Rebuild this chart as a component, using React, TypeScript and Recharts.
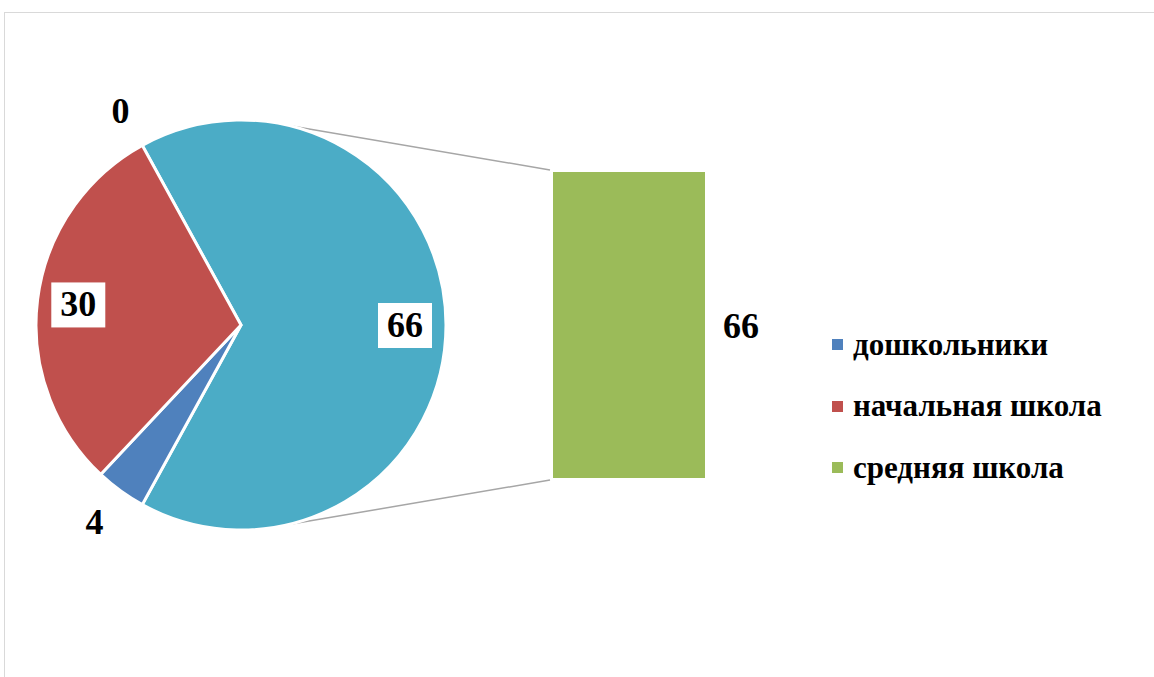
import React from "react";
import { PieChart, Pie, Cell, BarChart, Bar, XAxis, YAxis, LabelList, Legend } from "recharts";

// pie-of-bar: the teal slice is the "other" part that is split out into the bar
const pieNames = ["средняя школа (прочее)", "дошкольники", "начальная школа", ""];
const pieValues = [66, 4, 30, 0];
const pieColors = ["#4BACC6", "#4F81BD", "#C0504D", "#8064A2"];
const pieBoxed = [true, false, true, false];

const barNames = ["средняя школа"];
const barValues = [66];

const legendNames = ["дошкольники", "начальная школа", "средняя школа"];
const legendColors = ["#4F81BD", "#C0504D", "#9BBB59"];

const pieData = pieNames.map((name, i) => ({ name, value: pieValues[i] }));
const barData = barNames.map((name, i) => ({ name, value: barValues[i] }));

const FONT = "'Liberation Serif', 'Times New Roman', serif";
const RAD = Math.PI / 180;

const CX = 241;
const CY = 325;
const R = 205;
const OTHER = pieValues[0] / pieValues.reduce((a, b) => a + b, 0);
const START = OTHER * 180;

// bar placement
const BAR_X = 553;
const BAR_Y = 172;
const BAR_W = 152;
const BAR_H = 306;

const renderLabel = (props: any) => {
  const { cx, cy, midAngle, outerRadius, index, value } = props;
  const boxed = pieBoxed[index];
  const k = boxed ? 0.8 : 1.19;
  const x = cx + outerRadius * k * Math.cos(-midAngle * RAD) - (boxed ? 0 : 3);
  const y = cy + outerRadius * k * Math.sin(-midAngle * RAD);
  return (
    <g>
      {boxed && <rect x={x - 27} y={y - 22} width={54} height={45} fill="#fff" />}
      <text
        x={x}
        y={y}
        textAnchor="middle"
        dominantBaseline="central"
        fontFamily={FONT}
        fontWeight={700}
        fontSize={36}
        fill="#000"
      >
        {value}
      </text>
    </g>
  );
};

const renderLegend = () => (
  <div style={{ fontFamily: FONT, fontWeight: 700, fontSize: 31, color: '#000' }}>
    {legendNames.map((name, i) => (
      <div key={name} style={{ display: 'flex', alignItems: 'center', height: 61.5 }}>
        <div style={{ width: 11, height: 11, background: legendColors[i], marginRight: 10 }}></div>
        <span>{name}</span>
      </div>
    ))}
  </div>
);

const App: React.FC = () => {
  // connector lines from the split slice to the bar corners
  const a = 77 * RAD;
  const lines = [
    { x1: CX + R * Math.cos(a), y1: CY - R * Math.sin(a), x2: BAR_X - 3, y2: BAR_Y - 2 },
    { x1: CX + R * Math.cos(a), y1: CY + R * Math.sin(a), x2: BAR_X - 3, y2: BAR_Y + BAR_H + 2 },
  ];

  return (
    <div style={{ position: 'absolute', left: 0, top: 0, width: 1154, height: 677, overflow: 'hidden', background: '#fff' }}>
      {/* chart frame */}
      <div style={{ position: 'absolute', left: 4, top: 12, width: 1200, height: 720, border: '1px solid #D9D9D9' }}></div>

      <svg width={1154} height={677} style={{ position: 'absolute', left: 0, top: 0 }}>
        {lines.map((l, i) => (
          <line key={i} x1={l.x1} y1={l.y1} x2={l.x2} y2={l.y2} stroke="#A6A6A6" strokeWidth={1.5} />
        ))}
      </svg>

      <div style={{ position: 'absolute', left: 0, top: 0 }}>
        <PieChart width={1154} height={677} margin={{ top: 0, right: 0, bottom: 0, left: 0 }}>
          <Pie
            data={pieData}
            dataKey="value"
            cx={CX}
            cy={CY}
            outerRadius={R}
            startAngle={START}
            endAngle={START - 360}
            stroke="#fff"
            strokeWidth={3}
            label={renderLabel}
            labelLine={false}
            isAnimationActive={false}
          >
            {pieData.map((d, i) => (
              <Cell key={i} fill={pieColors[i]} />
            ))}
          </Pie>
          <Legend
            content={renderLegend}
            wrapperStyle={{ position: 'absolute', left: 832, top: 314, width: 320 }}
          />
        </PieChart>
      </div>

      <div style={{ position: 'absolute', left: BAR_X, top: BAR_Y }}>
        <BarChart
          width={BAR_W + 90}
          height={BAR_H}
          data={barData}
          margin={{ top: 0, right: 90, bottom: 0, left: 0 }}
          barCategoryGap={0}
        >
          <XAxis dataKey="name" hide />
          <YAxis hide domain={[0, 66]} />
          <Bar dataKey="value" fill="#9BBB59" isAnimationActive={false}>
            <LabelList
              dataKey="value"
              position="right"
              offset={18}
              style={{ fontFamily: FONT, fontWeight: 700, fontSize: 36, fill: '#000' }}
            />
          </Bar>
        </BarChart>
      </div>
    </div>
  );
};

export default App;
